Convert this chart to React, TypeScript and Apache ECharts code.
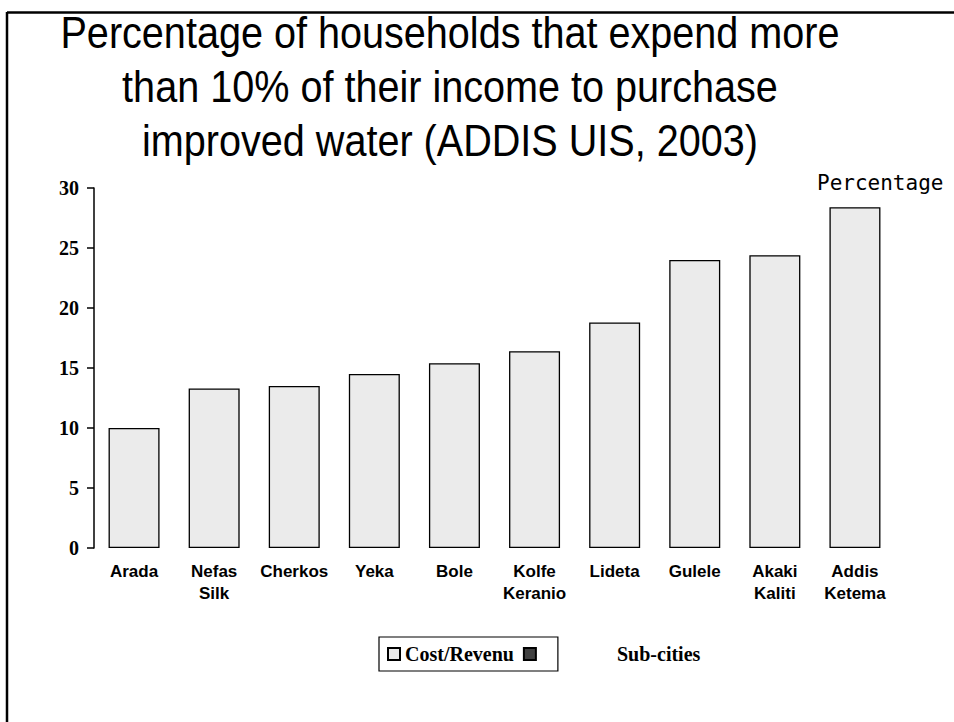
import { useEffect, useRef } from "react";
import * as echarts from "echarts";

// Sub-city names (line breaks as printed under each bar)
const subCities = [
  "Arada",
  "Nefas\nSilk",
  "Cherkos",
  "Yeka",
  "Bole",
  "Kolfe\nKeranio",
  "Lideta",
  "Gulele",
  "Akaki\nKaliti",
  "Addis\nKetema",
];

// Share of households spending more than 10% of income on improved water (%)
const costRevenue = [10, 13.3, 13.5, 14.5, 15.4, 16.4, 18.8, 24, 24.4, 28.4];

// Second legend entry (no values plotted)
const otherSeries: number[] = [];

const yMin = 0;
const yMax = 30;
const yStep = 5;

const titleLines = [
  "Percentage of households that expend more",
  "than 10% of their income to purchase",
  "improved water (ADDIS UIS, 2003)",
];

export default function App() {
  const ref = useRef<HTMLDivElement>(null);

  useEffect(() => {
    document.body.style.margin = "0";
    if (!ref.current) return;
    const chart = echarts.init(ref.current, undefined, { renderer: "svg" });
    chart.setOption({
      animation: false,
      backgroundColor: "#ffffff",
      grid: { left: 94, right: 59, top: 188, bottom: 174 },
      legend: {
        left: 379,
        top: 637,
        orient: "horizontal",
        selectedMode: false,
        icon: "rect",
        itemWidth: 12,
        itemHeight: 12,
        itemGap: 9,
        padding: [7, 12, 7, 8],
        borderColor: "#000000",
        borderWidth: 1.2,
        textStyle: {
          fontFamily: "Liberation Serif",
          fontWeight: "bold",
          fontSize: 20,
          color: "#000000",
        },
        data: ["Cost/Revenu", " "],
      },
      xAxis: {
        type: "category",
        data: subCities,
        axisLine: { show: false },
        axisTick: { show: false },
        axisLabel: {
          interval: 0,
          margin: 12,
          fontFamily: "Liberation Sans",
          fontWeight: "bold",
          fontSize: 17,
          lineHeight: 22,
          color: "#000000",
        },
      },
      yAxis: {
        type: "value",
        min: yMin,
        max: yMax,
        interval: yStep,
        splitLine: { show: false },
        axisLine: { show: true, lineStyle: { color: "#000000", width: 1.5 } },
        axisTick: { show: true, inside: false, length: 7, lineStyle: { color: "#000000", width: 1.5 } },
        axisLabel: {
          margin: 15,
          fontFamily: "Liberation Serif",
          fontWeight: "bold",
          fontSize: 20,
          color: "#000000",
        },
      },
      series: [
        {
          name: "Cost/Revenu",
          type: "bar",
          data: costRevenue,
          barWidth: 51,
          barGap: "-100%",
          itemStyle: { color: "#ebebeb", borderColor: "#000000", borderWidth: 1.3 },
        },
        {
          name: " ",
          type: "bar",
          data: otherSeries,
          barWidth: 51,
          barGap: "-100%",
          itemStyle: { color: "#404040", borderColor: "#000000", borderWidth: 1 },
        },
      ],
      graphic: [
        {
          type: "line",
          shape: { x1: 7, y1: 12.5, x2: 954, y2: 12.5 },
          style: { stroke: "#000000", lineWidth: 2.5 },
        },
        {
          type: "line",
          shape: { x1: 7, y1: 12, x2: 7, y2: 722 },
          style: { stroke: "#000000", lineWidth: 2.5 },
        },
        // Condensed three-line heading
        ...titleLines.map((line, i) => ({
          type: "text",
          x: 450,
          y: 33 + i * 54,
          scaleX: 0.9,
          style: {
            text: line,
            fontFamily: "Liberation Sans",
            fontSize: 44,
            fill: "#000000",
            align: "center",
            verticalAlign: "middle",
          },
        })),
        {
          type: "text",
          x: 817,
          y: 183,
          style: {
            text: "Percentage",
            fontFamily: "DejaVu Sans Mono",
            fontSize: 21,
            fill: "#000000",
            verticalAlign: "middle",
            align: "left",
          },
        },
        {
          type: "text",
          x: 617,
          y: 654,
          style: {
            text: "Sub-cities",
            fontFamily: "Liberation Serif",
            fontWeight: "bold",
            fontSize: 20,
            fill: "#000000",
            verticalAlign: "middle",
            align: "left",
          },
        },
      ],
    });
    return () => chart.dispose();
  }, []);

  return <div ref={ref} style={{ width: 954, height: 722 }} />;
}
